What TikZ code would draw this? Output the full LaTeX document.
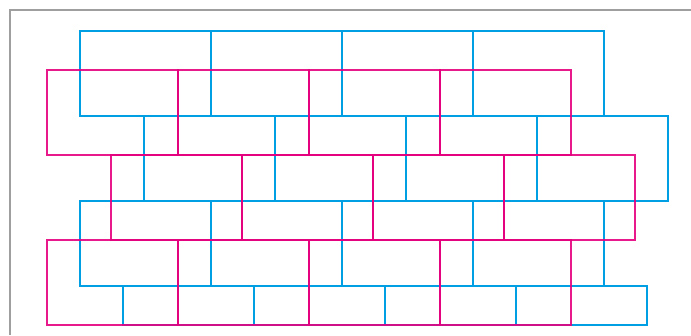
\documentclass[tikz,border=0pt]{standalone}
\usepackage{tikz}

\definecolor{brickblue}{HTML}{009FE3}
\definecolor{brickpink}{HTML}{E5007E}

\begin{document}
\begin{tikzpicture}[x=1bp, y=-1bp,
    bluebrick/.style={brickblue, line width=2.1bp},
    pinkbrick/.style={brickpink, line width=2.1bp, opacity=0.9}]
    \useasboundingbox (0,0) rectangle (691,335);
    % frame, open at right and bottom
    \draw[gray!75, line width=1.5bp] (10,335) -- (10,10) -- (691,10);
    % blue wall: left/top/height of each course
    \foreach \l/\t/\h in {80/31/85, 144/116/85, 80/201/85, 123/286/39}
        \foreach \k in {0,...,3}
            \draw[bluebrick] (\l+131*\k,\t) rectangle ++(131,\h);
    % pink wall on top
    \foreach \l/\t in {47/70, 111/155, 47/240}
        \foreach \k in {0,...,3}
            \draw[pinkbrick] (\l+131*\k,\t) rectangle ++(131,85);
\end{tikzpicture}
\end{document}
